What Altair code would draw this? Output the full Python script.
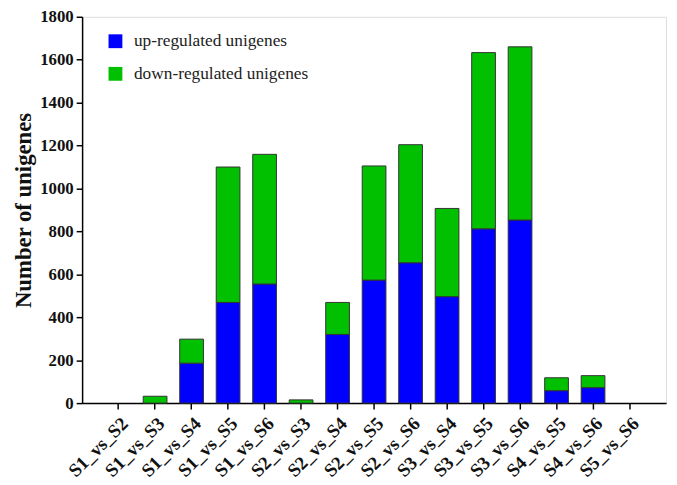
import altair as alt
import pandas as pd

categories = ["S1_vs_S2", "S1_vs_S3", "S1_vs_S4", "S1_vs_S5", "S1_vs_S6",
              "S2_vs_S3", "S2_vs_S4", "S2_vs_S5", "S2_vs_S6",
              "S3_vs_S4", "S3_vs_S5", "S3_vs_S6",
              "S4_vs_S5", "S4_vs_S6", "S5_vs_S6"]
up_regulated = [0, 0, 186, 469, 555, 0, 320, 573, 654, 496, 812, 853, 58, 72, 0]
down_regulated = [0, 32, 112, 631, 604, 15, 149, 532, 550, 411, 821, 807, 60, 56, 0]
series = ["up-regulated unigenes", "down-regulated unigenes"]
colors = ["#0000FF", "#00C000"]
y_ticks = [0, 200, 400, 600, 800, 1000, 1200, 1400, 1600, 1800]

rows = []
for i, c in enumerate(categories):
    rows.append({"cat": c, "series": series[0], "value": up_regulated[i], "ord": 0})
    rows.append({"cat": c, "series": series[1], "value": down_regulated[i], "ord": 1})
df = pd.DataFrame(rows)

SERIF = "Liberation Serif"

chart = alt.Chart(df).transform_filter(
    alt.datum.value > 0
).mark_bar(stroke="#333333", strokeWidth=1).encode(
    x=alt.X("cat:N", sort=categories,
            scale=alt.Scale(domain=categories, paddingInner=0.35, paddingOuter=0.675),
            axis=alt.Axis(title=None, labelAngle=-45, labelFont=SERIF,
                          labelFontSize=19, labelFontWeight="bold", labelColor="#111111",
                          domainColor="#000000", domainWidth=1.5, tickColor="#000000",
                          tickSize=6, tickWidth=1.5, labelPadding=5, labelLimit=0)),
    y=alt.Y("value:Q", stack="zero",
            scale=alt.Scale(domain=[0, 1800], nice=False),
            axis=alt.Axis(title="Number of unigenes", values=y_ticks, grid=False, format="d",
                          titleFont=SERIF, titleFontSize=23, titleFontWeight="bold",
                          titleColor="#111111", titlePadding=4,
                          labelFont=SERIF, labelFontSize=17, labelFontWeight="bold",
                          labelColor="#111111", domainColor="#000000", domainWidth=1.5,
                          tickColor="#000000", tickSize=6, tickWidth=1.5, labelPadding=3)),
    color=alt.Color("series:N", sort=series,
                    scale=alt.Scale(domain=series, range=colors),
                    legend=alt.Legend(title=None, orient="none", legendX=25, legendY=16,
                                      symbolType="square", symbolSize=196, symbolStrokeWidth=0,
                                      labelFont=SERIF, labelFontSize=17.5, labelLimit=0,
                                      labelColor="#222222", labelOffset=10, rowPadding=14,
                                      padding=0)),
    order=alt.Order("ord:Q"),
).properties(
    width=591, height=391,
    autosize=alt.AutoSizeParams(type="none"),
    padding={"left": 75, "top": 6, "right": 3, "bottom": 80},
).configure_view(
    stroke="#000000", strokeWidth=1.5
).configure(background="white")

chart.save("out.html", embed_options={"renderer": "svg", "actions": False})
